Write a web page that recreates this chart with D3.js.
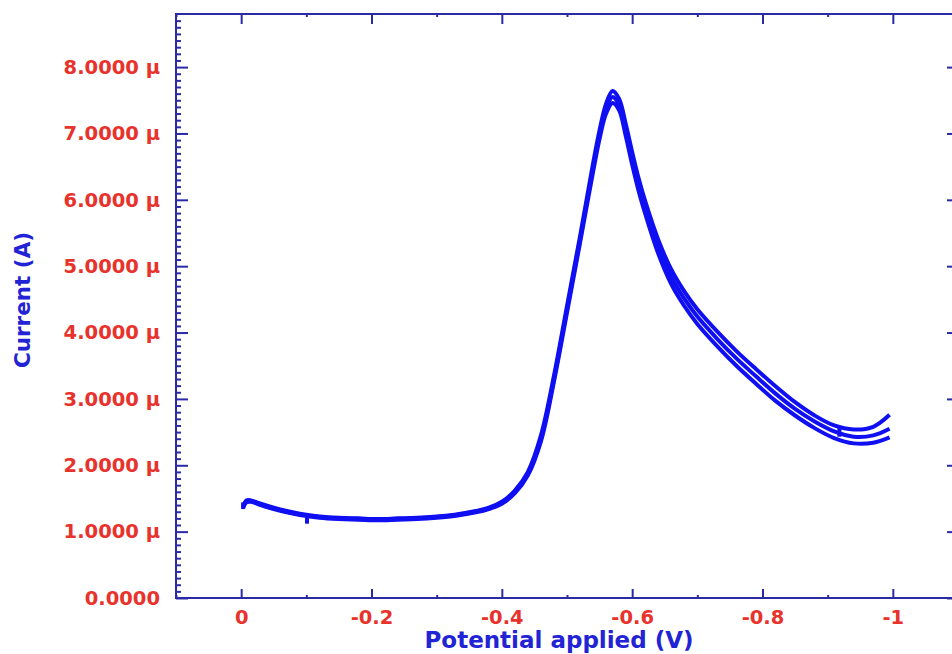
<!DOCTYPE html>
<html>
<head>
<meta charset="utf-8">
<script src="https://cdn.jsdelivr.net/npm/d3@7"></script>
<style>
  body { margin: 0; background: #fff; }
  svg { display: block; }
</style>
</head>
<body>
<svg></svg>
<script>
// potential (V) shared by the three scans
let potentials = [-0.003, -0.008, -0.015, -0.03, -0.05, -0.07, -0.09, -0.12, -0.15, -0.18,
  -0.21, -0.24, -0.27, -0.30, -0.33, -0.36, -0.38, -0.40, -0.42, -0.44,
  -0.46, -0.48, -0.50, -0.52, -0.54, -0.55, -0.56, -0.57, -0.58, -0.59,
  -0.60, -0.61, -0.62, -0.64, -0.66, -0.68, -0.70, -0.73, -0.76, -0.79,
  -0.82, -0.85, -0.88, -0.91, -0.94, -0.97, -0.995];

// current in microamps
let scan1 = [1.38, 1.47, 1.47, 1.42, 1.36, 1.31, 1.27, 1.23, 1.21, 1.20,
  1.19, 1.20, 1.21, 1.23, 1.26, 1.31, 1.36, 1.45, 1.62, 1.90,
  2.45, 3.35, 4.40, 5.45, 6.55, 7.05, 7.45, 7.64, 7.52, 7.15,
  6.72, 6.32, 5.98, 5.40, 4.95, 4.62, 4.35, 4.02, 3.72, 3.45,
  3.19, 2.95, 2.75, 2.60, 2.54, 2.58, 2.76];
let scan2 = [1.37, 1.45, 1.46, 1.41, 1.35, 1.30, 1.26, 1.22, 1.20, 1.19,
  1.18, 1.19, 1.20, 1.22, 1.25, 1.30, 1.35, 1.43, 1.60, 1.87,
  2.40, 3.30, 4.35, 5.40, 6.48, 6.98, 7.37, 7.55, 7.43, 7.05,
  6.62, 6.22, 5.88, 5.29, 4.84, 4.51, 4.24, 3.91, 3.61, 3.34,
  3.08, 2.85, 2.66, 2.51, 2.43, 2.45, 2.55];
let scan3 = [1.36, 1.44, 1.45, 1.40, 1.34, 1.29, 1.25, 1.21, 1.19, 1.18,
  1.17, 1.18, 1.19, 1.21, 1.24, 1.29, 1.34, 1.42, 1.58, 1.85,
  2.36, 3.26, 4.30, 5.35, 6.42, 6.92, 7.30, 7.46, 7.35, 6.97,
  6.53, 6.13, 5.79, 5.19, 4.73, 4.40, 4.13, 3.80, 3.50, 3.23,
  2.97, 2.75, 2.56, 2.41, 2.33, 2.34, 2.42];

// short spikes in the recording
let glitchV = [-0.003, -0.101, -0.918];
let glitchFrom = [1.44, 1.23, 2.43];
let glitchTo = [1.34, 1.12, 2.56];

let xMajor = [0, -0.2, -0.4, -0.6, -0.8, -1];
let xLabels = ["0", "-0.2", "-0.4", "-0.6", "-0.8", "-1"];
let xMinor = [0.1, -0.1, -0.3, -0.5, -0.7, -0.9, -1.1];
let yMajor = [0, 1, 2, 3, 4, 5, 6, 7, 8];
let yLabels = ["0.0000", "1.0000 \u03bc", "2.0000 \u03bc", "3.0000 \u03bc", "4.0000 \u03bc",
  "5.0000 \u03bc", "6.0000 \u03bc", "7.0000 \u03bc", "8.0000 \u03bc"];

let width = 952;
let height = 654;
let plotLeft = 176, plotRight = 958, plotTop = 14, plotBottom = 598;
let axisColor = "#2a2aa6";
let labelColor = "#e8322c";
let titleColor = "#2323d6";
let curveColor = "#0f0ff2";
let font = "'DejaVu Sans', Verdana, sans-serif";

let xScale = d3.scaleLinear().domain([0.1, -1.1]).range([plotLeft, plotRight]);
let yScale = d3.scaleLinear().domain([0, 8.8]).range([plotBottom, plotTop]);

let yMinor = d3.range(0, 88).map(i => i / 10).filter(v => Math.abs(v - Math.round(v)) > 1e-6);

let svg = d3.select("svg").attr("width", width).attr("height", height);

function styleAxis(g, withText) {
  g.selectAll("path").remove();
  g.selectAll("line").attr("stroke", axisColor).attr("stroke-width", 2);
  if (withText) {
    g.selectAll("text")
      .attr("fill", labelColor)
      .style("font-family", font)
      .style("font-weight", "bold")
      .style("font-size", "19.5px");
  }
}

// bottom
svg.append("g").attr("transform", "translate(0," + plotBottom + ")")
  .call(d3.axisBottom(xScale).tickValues(xMajor).tickSize(-9).tickSizeOuter(0)
    .tickPadding(12).tickFormat((d, i) => xLabels[i]))
  .call(g => styleAxis(g, true));
svg.append("g").attr("transform", "translate(0," + plotBottom + ")")
  .call(d3.axisBottom(xScale).tickValues(xMinor).tickSize(-3).tickFormat(""))
  .call(g => styleAxis(g, false));

// top
svg.append("g").attr("transform", "translate(0," + plotTop + ")")
  .call(d3.axisTop(xScale).tickValues(xMajor).tickSize(-10).tickFormat(""))
  .call(g => styleAxis(g, false));
svg.append("g").attr("transform", "translate(0," + plotTop + ")")
  .call(d3.axisTop(xScale).tickValues(xMinor).tickSize(-3).tickFormat(""))
  .call(g => styleAxis(g, false));

// left
svg.append("g").attr("transform", "translate(" + plotLeft + ",0)")
  .call(d3.axisLeft(yScale).tickValues(yMajor).tickSize(-12).tickSizeOuter(0)
    .tickPadding(16).tickFormat((d, i) => yLabels[i]))
  .call(g => styleAxis(g, true));
svg.append("g").attr("transform", "translate(" + plotLeft + ",0)")
  .call(d3.axisLeft(yScale).tickValues(yMinor).tickSize(-5).tickFormat(""))
  .call(g => styleAxis(g, false));

// right
svg.append("g").attr("transform", "translate(" + plotRight + ",0)")
  .call(d3.axisRight(yScale).tickValues(yMajor).tickSize(-11).tickFormat(""))
  .call(g => styleAxis(g, false));

// frame
svg.append("rect")
  .attr("x", plotLeft).attr("y", plotTop)
  .attr("width", plotRight - plotLeft).attr("height", plotBottom - plotTop)
  .attr("fill", "none").attr("stroke", axisColor).attr("stroke-width", 2);

// scans
let line = d3.line()
  .x(d => xScale(d[0]))
  .y(d => yScale(d[1]))
  .curve(d3.curveCatmullRom.alpha(0.5));

[scan1, scan2, scan3].forEach(scan => {
  svg.append("path")
    .datum(potentials.map((v, i) => [v, scan[i]]))
    .attr("d", line)
    .attr("fill", "none")
    .attr("stroke", curveColor)
    .attr("stroke-width", 4)
    .attr("stroke-linejoin", "round");
});

svg.selectAll(".glitch")
  .data(glitchV)
  .enter()
  .append("line")
  .attr("class", "glitch")
  .attr("x1", d => xScale(d))
  .attr("x2", d => xScale(d))
  .attr("y1", (d, i) => yScale(glitchFrom[i]))
  .attr("y2", (d, i) => yScale(glitchTo[i]))
  .attr("stroke", curveColor)
  .attr("stroke-width", 4);

// titles
svg.append("text")
  .attr("x", 559)
  .attr("y", 648)
  .attr("text-anchor", "middle")
  .attr("fill", titleColor)
  .style("font-family", font)
  .style("font-weight", "bold")
  .style("font-size", "23px")
  .text("Potential applied (V)");

svg.append("text")
  .attr("transform", "translate(30,300) rotate(-90)")
  .attr("text-anchor", "middle")
  .attr("fill", titleColor)
  .style("font-family", font)
  .style("font-weight", "bold")
  .style("font-size", "21.5px")
  .text("Current (A)");
</script>
</body>
</html>
